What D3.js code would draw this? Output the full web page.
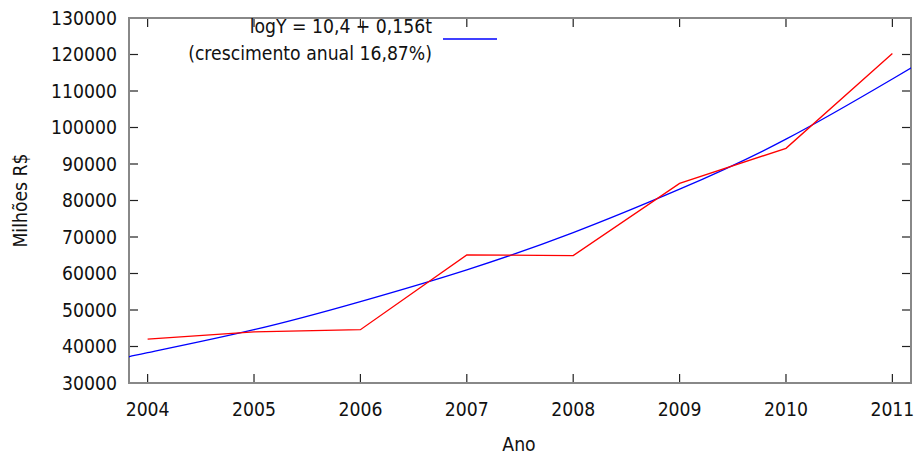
<!DOCTYPE html>
<html>
<head>
<meta charset="utf-8">
<script src="https://cdn.jsdelivr.net/npm/d3@7"></script>
<style>
  body { margin: 0; background: #fff; }
  svg text { font-family: "DejaVu Sans Condensed", "DejaVu Sans", sans-serif; font-size: 19.2px; fill: #111; }
</style>
</head>
<body>
<svg id="chart" width="918" height="455"></svg>
<script>
// anos e valores (Milhões R$)
var years = [2004, 2005, 2006, 2007, 2008, 2009, 2010, 2011];
var receita = [42000, 44000, 44600, 65100, 64900, 84700, 94300, 120300];

// curva de tendência (inclui as bordas do eixo x)
var trendYears = [2003.825, 2004, 2005, 2006, 2007, 2008, 2009, 2010, 2011, 2011.175];
var trendValues = [37100, 38300, 44600, 52300, 61000, 71200, 83100, 96800, 113300, 116300];

var yTicks = [30000, 40000, 50000, 60000, 70000, 80000, 90000, 100000, 110000, 120000, 130000];
var legendLines = ['logY = 10,4 + 0,156t', '(crescimento anual 16,87%)'];

var svg = d3.select('#chart');
var pLeft = 129, pRight = 911, pTop = 18, pBottom = 383;

var x = d3.scaleLinear().domain([2003.825, 2011.175]).range([pLeft, pRight]);
var y = d3.scaleLinear().domain([30000, 130000]).range([pBottom, pTop]);

// ticks (gnuplot style, inward and mirrored)
var tickLen = 9;
var g = svg.append('g').attr('stroke', '#222').attr('stroke-width', 1.2);
years.forEach(function (d) {
    g.append('line').attr('x1', x(d)).attr('x2', x(d)).attr('y1', pBottom).attr('y2', pBottom - tickLen);
    g.append('line').attr('x1', x(d)).attr('x2', x(d)).attr('y1', pTop).attr('y2', pTop + tickLen);
});
yTicks.forEach(function (d) {
    g.append('line').attr('x1', pLeft).attr('x2', pLeft + tickLen).attr('y1', y(d)).attr('y2', y(d));
    g.append('line').attr('x1', pRight).attr('x2', pRight - tickLen).attr('y1', y(d)).attr('y2', y(d));
});

// frame
svg.append('rect')
    .attr('x', pLeft).attr('y', pTop)
    .attr('width', pRight - pLeft).attr('height', pBottom - pTop)
    .attr('fill', 'none').attr('stroke', '#888').attr('stroke-width', 2);

// tick labels
svg.selectAll('.ylab').data(yTicks).enter().append('text')
    .attr('x', 117).attr('y', function (d) { return y(d); })
    .attr('dy', '0.36em').attr('text-anchor', 'end')
    .text(function (d) { return d; });

svg.selectAll('.xlab').data(years).enter().append('text')
    .attr('x', function (d) { return x(d); }).attr('y', 416)
    .attr('text-anchor', 'middle')
    .text(function (d) { return d; });

// axis titles
svg.append('text').attr('x', 519).attr('y', 451).attr('text-anchor', 'middle').text('Ano');
svg.append('text')
    .attr('transform', 'translate(27,' + ((pTop + pBottom) / 2) + ') rotate(-90)')
    .attr('text-anchor', 'middle').text('Milhões R$');

// clip to plot area
svg.append('clipPath').attr('id', 'clip')
    .append('rect').attr('x', pLeft).attr('y', pTop).attr('width', pRight - pLeft).attr('height', pBottom - pTop);

var plot = svg.append('g').attr('clip-path', 'url(#clip)');

var line = d3.line()
    .x(function (d) { return x(d[0]); })
    .y(function (d) { return y(d[1]); });

plot.append('path')
    .datum(d3.zip(trendYears, trendValues))
    .attr('fill', 'none').attr('stroke', '#0000ff').attr('stroke-width', 1.3)
    .attr('d', line.curve(d3.curveNatural));

plot.append('path')
    .datum(d3.zip(years, receita))
    .attr('fill', 'none').attr('stroke', '#ff0000').attr('stroke-width', 1.3)
    .attr('d', line.curve(d3.curveLinear));

// legend
svg.append('text').attr('x', 432).attr('y', 33).attr('text-anchor', 'end').text(legendLines[0]);
svg.append('text').attr('x', 432).attr('y', 60).attr('text-anchor', 'end').text(legendLines[1]);
svg.append('line')
    .attr('x1', 443).attr('x2', 497).attr('y1', 39).attr('y2', 39)
    .attr('stroke', '#0000ff').attr('stroke-width', 1.3);
</script>
</body>
</html>
